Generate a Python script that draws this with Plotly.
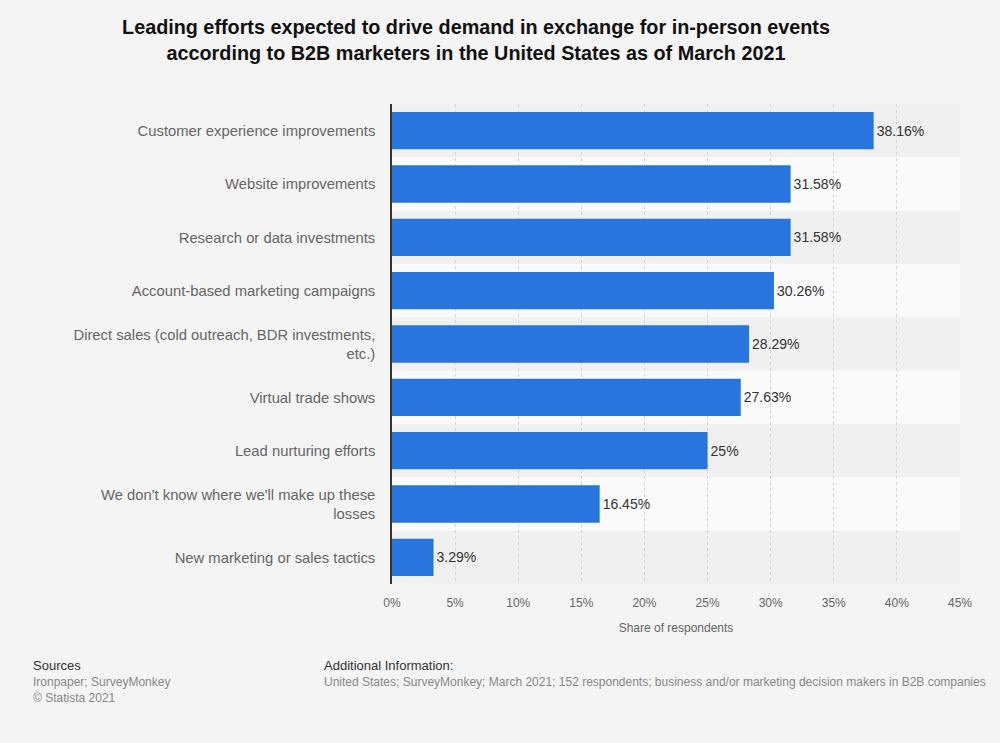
import plotly.graph_objects as go

# data
categories = [
    "Customer experience improvements",
    "Website improvements",
    "Research or data investments",
    "Account-based marketing campaigns",
    "Direct sales (cold outreach, BDR investments,<br>etc.)",
    "Virtual trade shows",
    "Lead nurturing efforts",
    "We don't know where we'll make up these<br>losses",
    "New marketing or sales tactics",
]
shares = [38.16, 31.58, 31.58, 30.26, 28.29, 27.63, 25, 16.45, 3.29]
x_ticks = [0, 5, 10, 15, 20, 25, 30, 35, 40, 45]
x_tick_labels = [f"{v}%" for v in x_ticks]

FONT = "Liberation Sans, Arial, sans-serif"

fig = go.Figure(
    go.Bar(
        x=shares,
        y=categories,
        orientation="h",
        marker_color="#2876dd",
        marker_line_width=0,
        width=0.7,
        text=[f"{v:g}%" for v in shares],
        textposition="outside",
        textfont=dict(size=14, color="#333333", family=FONT),
        cliponaxis=False,
        hoverinfo="x+y",
    )
)

# alternating row bands
shapes = []
for i in range(len(categories)):
    shapes.append(dict(
        type="rect", xref="paper", yref="y", layer="below",
        x0=0, x1=1, y0=i - 0.5, y1=i + 0.5,
        fillcolor="#f0f0f0" if i % 2 == 0 else "#fafafa",
        line_width=0,
    ))

fig.update_layout(
    width=1000, height=743,
    margin=dict(l=392, r=40, t=104, b=159),
    paper_bgcolor="#f4f4f4",
    plot_bgcolor="rgba(0,0,0,0)",
    font=dict(family=FONT),
    showlegend=False,
    shapes=shapes,
    title=dict(
        text="<b>Leading efforts expected to drive demand in exchange for in-person events<br>"
             "according to B2B marketers in the United States as of March 2021</b>",
        x=0.476, xanchor="center",
        yref="container", y=1 - 34 / 743, yanchor="middle",
        font=dict(size=19.8, color="#111111", family=FONT),
    ),
)

fig.update_xaxes(
    range=[0, 45],
    tickmode="array",
    tickvals=x_ticks,
    ticktext=x_tick_labels,
    tickfont=dict(size=12, color="#666666"),
    showgrid=True, gridcolor="#d4d4d4", griddash="dot", gridwidth=1,
    zeroline=False, showline=False, ticks="",
    ticklabelstandoff=10,
    title=dict(text="Share of respondents", font=dict(size=12, color="#666666"), standoff=14),
)
fig.update_yaxes(
    autorange="reversed",
    tickfont=dict(size=14.8, color="#666666"),
    showgrid=False, zeroline=False,
    showline=True, linecolor="#333333", linewidth=1.5,
    ticks="", ticklabelstandoff=12,
)

# footer
footer = [
    (31, 665, "Sources", 13, "#333333"),
    (31, 682, "Ironpaper; SurveyMonkey", 12, "#888888"),
    (31, 698, "© Statista 2021", 12, "#888888"),
    (322, 665, "Additional Information:", 13, "#333333"),
    (322, 682, "United States; SurveyMonkey; March 2021; 152 respondents; business and/or marketing decision makers in B2B companies", 12, "#888888"),
]
plot_l, plot_r, plot_t, plot_b = 392, 960, 104, 584
for px, py, txt, size, color in footer:
    fig.add_annotation(
        text=txt, showarrow=False,
        xref="paper", yref="paper",
        x=(px - plot_l) / (plot_r - plot_l),
        y=(plot_b - py) / (plot_b - plot_t),
        xanchor="left", yanchor="middle",
        font=dict(size=size, color=color, family=FONT),
    )

fig.write_html(
    "out.html",
    config={"displayModeBar": False},
    post_script="document.body.style.margin='0';document.body.style.background='#f4f4f4';",
)
